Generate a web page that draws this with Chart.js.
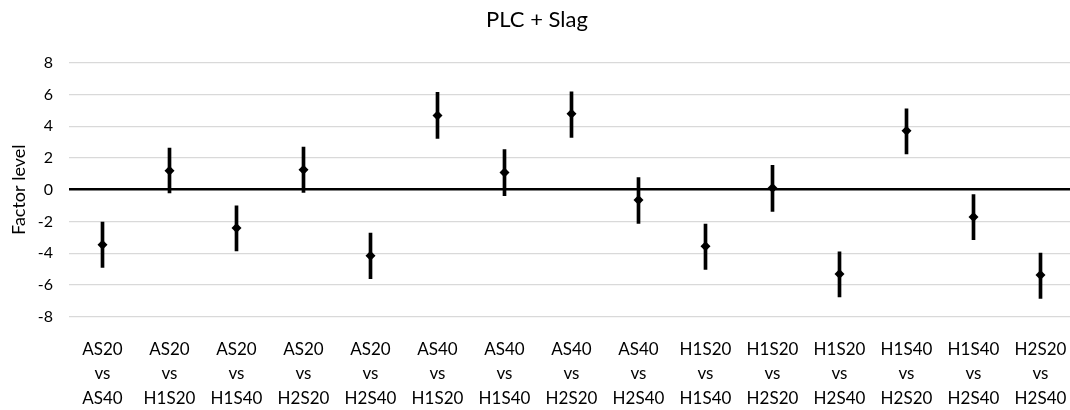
<!DOCTYPE html>
<html>
<head>
<meta charset="utf-8">
<script src="https://cdn.jsdelivr.net/npm/chart.js@4/dist/chart.umd.min.js"></script>
<style>
  html, body { margin: 0; padding: 0; background: #fff; overflow: hidden; width: 1070px; height: 410px; }
  #wrap { width: 1074px; height: 410px; }
</style>
</head>
<body>
<div id="wrap"><canvas id="c" width="1074" height="410"></canvas></div>
<script>
// ---- data ----
const categories = [
  ["AS20", "vs", "AS40"],
  ["AS20", "vs", "H1S20"],
  ["AS20", "vs", "H1S40"],
  ["AS20", "vs", "H2S20"],
  ["AS20", "vs", "H2S40"],
  ["AS40", "vs", "H1S20"],
  ["AS40", "vs", "H1S40"],
  ["AS40", "vs", "H2S20"],
  ["AS40", "vs", "H2S40"],
  ["H1S20", "vs", "H1S40"],
  ["H1S20", "vs", "H2S20"],
  ["H1S20", "vs", "H2S40"],
  ["H1S40", "vs", "H2S20"],
  ["H1S40", "vs", "H2S40"],
  ["H2S20", "vs", "H2S40"]
];
const means = [-3.46, 1.20, -2.41, 1.26, -4.16, 4.68, 1.09, 4.79, -0.65, -3.57, 0.10, -5.31, 3.72, -1.72, -5.37];
const lower = [-4.89, -0.21, -3.86, -0.17, -5.60, 3.23, -0.38, 3.29, -2.12, -5.02, -1.37, -6.76, 2.25, -3.15, -6.85];
const upper = [-2.04, 2.62, -1.01, 2.68, -2.73, 6.13, 2.52, 6.17, 0.76, -2.16, 1.53, -3.91, 5.10, -0.31, -3.99];
const yTicks = [-8, -6, -4, -2, 0, 2, 4, 6, 8];
const chartTitle = "PLC + Slag";
const yTitle = "Factor level";

const FONT = "Lato, 'Open Sans', sans-serif";

new Chart(document.getElementById('c'), {
  data: {
    labels: categories,
    datasets: [
      {
        type: 'bar',
        label: 'range',
        data: categories.map((c, i) => [lower[i], upper[i]]),
        backgroundColor: '#000',
        borderWidth: 0,
        barThickness: 3,
        grouped: false,
        order: 2
      },
      {
        type: 'line',
        label: 'mean',
        data: means,
        showLine: false,
        pointStyle: 'rectRot',
        pointRadius: 5,
        pointHoverRadius: 5,
        pointBackgroundColor: '#000',
        pointBorderColor: '#000',
        pointBorderWidth: 0,
        order: 1
      }
    ]
  },
  options: {
    responsive: false,
    animation: false,
    devicePixelRatio: 1,
    layout: { autoPadding: false, padding: { left: 0, right: 0, top: 0, bottom: 0 } },
    plugins: {
      legend: { display: false },
      tooltip: { enabled: false },
      title: {
        display: true,
        text: chartTitle,
        color: '#000',
        font: { family: FONT, size: 22, weight: 'normal', lineHeight: 1.2 },
        padding: { top: 7, bottom: 29.3 }
      }
    },
    scales: {
      x: {
        type: 'category',
        offset: true,
        grid: { display: false },
        border: { display: false },
        ticks: {
          color: '#000',
          font: { family: FONT, size: 17, lineHeight: 1.45 },
          padding: 12,
          maxRotation: 0,
          autoSkip: false
        },
        afterFit: (s) => { s.height = 93.3; s.paddingLeft = 0; s.paddingRight = 0; }
      },
      y: {
        min: -8,
        max: 8,
        afterBuildTicks: (s) => { s.ticks = yTicks.map(v => ({ value: v })); },
        border: { display: false },
        grid: {
          drawTicks: false,
          color: (ctx) => (ctx.tick && ctx.tick.value === 0) ? '#000' : '#d9d9d9',
          lineWidth: (ctx) => (ctx.tick && ctx.tick.value === 0) ? 2.5 : 1.2
        },
        ticks: {
          color: '#000',
          font: { family: FONT, size: 16 },
          padding: 16
        },
        title: {
          display: true,
          text: yTitle,
          color: '#000',
          font: { family: FONT, size: 18 },
          padding: { top: 8, bottom: 0 }
        },
        afterFit: (s) => { s.width = 69; }
      }
    }
  }
});
</script>
</body>
</html>
